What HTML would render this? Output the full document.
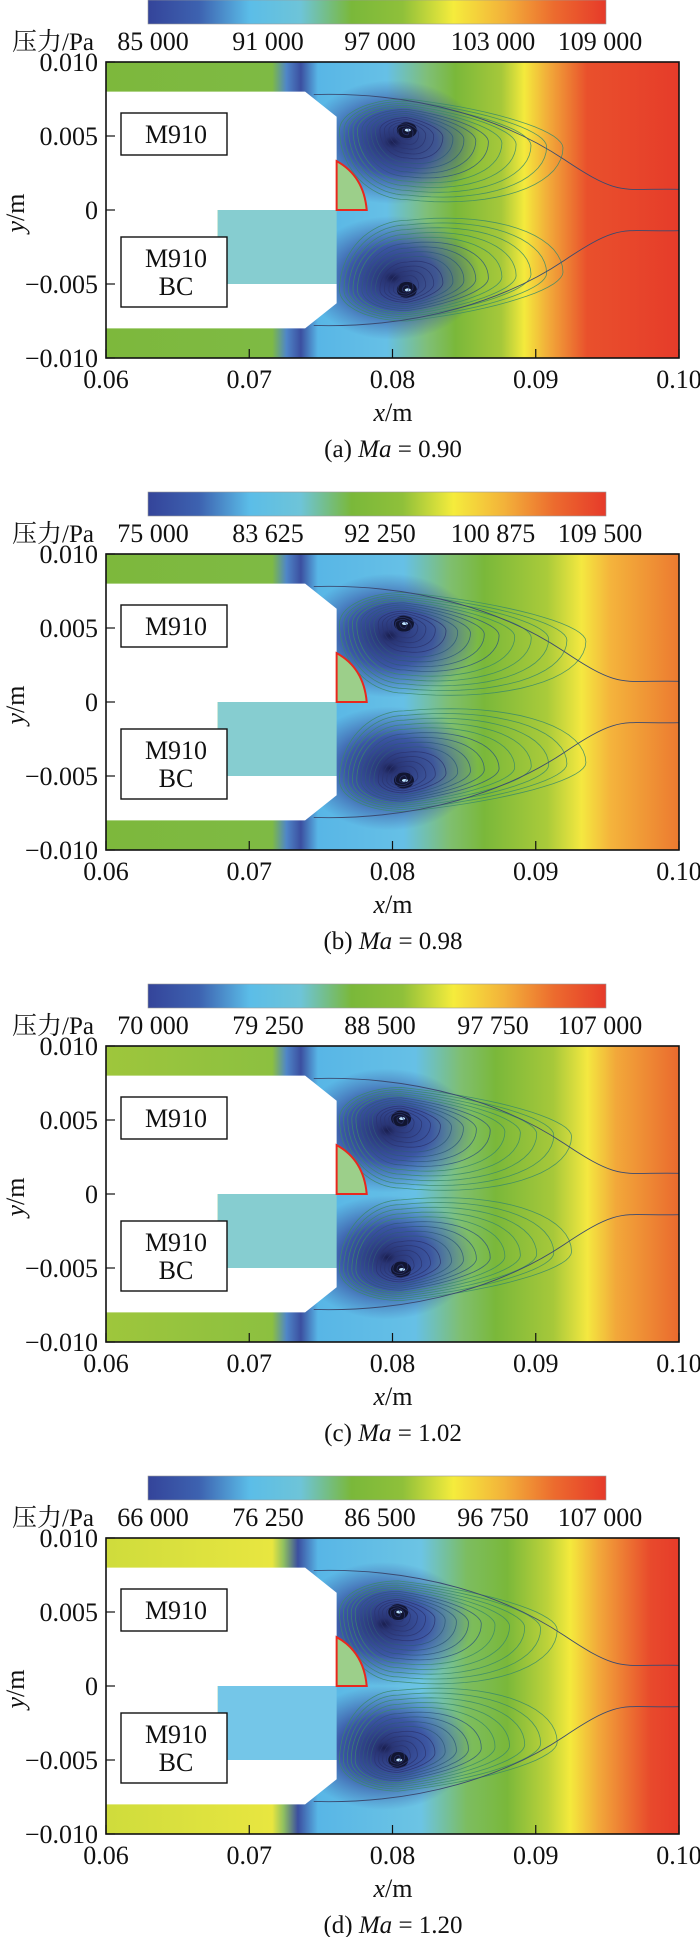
<!DOCTYPE html>
<html><head><meta charset="utf-8"><style>
html,body{margin:0;padding:0;background:#fff;}
svg text{font-family:"Liberation Serif","Noto Serif CJK SC",serif;fill:#111;}
</style></head><body>
<svg id="fig" width="700" height="1937" viewBox="0 0 700 1937" xmlns="http://www.w3.org/2000/svg">
<defs id="defs"></defs>
</svg>
<script>
const panelLetters = ["a","b","c","d"];
const machNumbers = ["0.90","0.98","1.02","1.20"];
const cbarLabels = [
  ["85 000","91 000","97 000","103 000","109 000"],
  ["75 000","83 625","92 250","100 875","109 500"],
  ["70 000","79 250","88 500","97 750","107 000"],
  ["66 000","76 250","86 500","96 750","107 000"]
];
const xTicks = [0.06,0.07,0.08,0.09,0.10];
const xTickLabels = ["0.06","0.07","0.08","0.09","0.10"];
const yTicks = [0.010,0.005,0,-0.005,-0.010];
const yTickLabels = ["0.010","0.005","0","\u22120.005","\u22120.010"];
const vortexX = [0.0810,0.0808,0.0806,0.0804];
const vortexY = [0.0054,0.0053,0.0051,0.0050];
const loopRightX = [0.0919,0.0935,0.0925,0.0915];
const cbarColors = ["#34449a","#3d62b0","#5bbde8","#6ec4d8","#7ab83a","#8fc03a","#f5ec3c","#f3b23a","#ec6a2e","#e63a2a"];
const fieldStops = [
  [[0,"#7db83c"],[0.29,"#7eba44"],[0.315,"#4f86c8"],[0.34,"#3b4fa0"],[0.37,"#58b6e6"],[0.49,"#66c0e6"],[0.56,"#7fbf78"],[0.61,"#7ab83a"],[0.69,"#a6c83a"],[0.73,"#f4ea3c"],[0.77,"#f2ae3a"],[0.84,"#e9502c"],[1,"#e63c2a"]],
  [[0,"#7db83c"],[0.29,"#7eba44"],[0.315,"#4f86c8"],[0.34,"#3b4fa0"],[0.37,"#58b6e6"],[0.52,"#66c0e6"],[0.60,"#7fbf70"],[0.66,"#7ab83a"],[0.77,"#aacb3a"],[0.83,"#f4e840"],[0.88,"#f4b43c"],[1,"#ec7a30"]],
  [[0,"#9ec63c"],[0.29,"#8cc040"],[0.315,"#4f86c8"],[0.34,"#3b4fa0"],[0.37,"#58b6e6"],[0.54,"#66c0e6"],[0.62,"#7fbf70"],[0.68,"#7ab83a"],[0.78,"#a6c83a"],[0.84,"#f4e840"],[0.89,"#f2a83a"],[1,"#ea6a2e"]],
  [[0,"#cfdc3c"],[0.29,"#e8e640"],[0.31,"#8fc060"],[0.335,"#3b4fa0"],[0.37,"#58b6e6"],[0.55,"#6cc4e4"],[0.63,"#7cbd60"],[0.70,"#7ab83a"],[0.77,"#bcd23a"],[0.81,"#f4ea3c"],[0.86,"#f2a83a"],[0.95,"#e84a2c"],[1,"#e63c2a"]]
];
const panelSpacing = 492;
const svg = document.getElementById('fig');
const defs = document.getElementById('defs');
const NS = "http://www.w3.org/2000/svg";
function mk(tag, attrs, parent){const e=document.createElementNS(NS,tag);for(const k in attrs)e.setAttribute(k,attrs[k]);(parent||svg).appendChild(e);return e;}

const cg = mk('linearGradient',{id:'cbar',x1:0,x2:1,y1:0,y2:0},defs);
cbarColors.forEach((c,i)=>mk('stop',{offset:i/(cbarColors.length-1),'stop-color':c},cg));
const vg = mk('radialGradient',{id:'vort'},defs);
mk('stop',{offset:0,'stop-color':'#1a1f50','stop-opacity':1},vg);
mk('stop',{offset:0.1,'stop-color':'#262e70','stop-opacity':0.95},vg);
mk('stop',{offset:0.5,'stop-color':'#34449a','stop-opacity':0.85},vg);
mk('stop',{offset:1,'stop-color':'#3b4fa0','stop-opacity':0},vg);

const PL=106, PW=573, PH=296;
panelLetters.forEach((letter,p)=>{
  const oy = 62 + p*panelSpacing;
  const X = v => PL + (v-0.06)/0.04*PW;
  const Y = v => oy + (0.01-v)/0.02*PH;
  const g = mk('g',{});
  
  
  const cb = mk('rect',{x:148,y:oy-62,width:458,height:24,fill:'url(#cbar)',stroke:'#999','stroke-width':0.6},g);
  
  
  const ct = mk('text',{x:12,y:oy-12,'font-size':25},g); ct.textContent='压力/Pa';
  
  
  const cbx=[153,268,380,493,600];
  cbarLabels[p].forEach((lab,i)=>{
    const t=mk('text',{x:cbx[i],y:oy-12,'font-size':26,'text-anchor':'middle'},g); t.textContent=lab;
    
    
  });
  const fg = mk('linearGradient',{id:'f'+p,x1:0,x2:1,y1:0,y2:0},defs);
  fieldStops[p].forEach(s=>mk('stop',{offset:s[0],'stop-color':s[1]},fg));
  const clip = mk('clipPath',{id:'c'+p},defs); mk('rect',{x:PL,y:oy,width:PW,height:PH},clip);
  const fld = mk('g',{'clip-path':'url(#c'+p+')'},g);
  
  
  mk('rect',{x:PL,y:oy,width:PW,height:PH,fill:'url(#f'+p+')'},fld);
  [1,-1].forEach(sg=>{
    const cx=X(vortexX[p]), cy=Y(sg*vortexY[p]);
    const e=mk('ellipse',{cx:cx-14,cy:cy+sg*12,rx:88,ry:62,fill:'url(#vort)'},fld);
    
    
    mk('ellipse',{cx:cx,cy:cy,rx:10,ry:8,fill:'#111530'},fld);
    mk('ellipse',{cx:cx+1,cy:cy,rx:3,ry:1.5,fill:'#bfe6ff'},fld);
  });
  [1,-1].forEach(sg=>{
    const cx=vortexX[p], cy=sg*vortexY[p];
    const R=loopRightX[p]-cx, L=cx-0.0763;
    for(let k=1;k<=15;k++){
      const s=k/15;
      let d='';
      for(let i=0;i<=72;i++){
        const t=i/72*2*Math.PI, u=Math.cos(t), v=Math.sin(t);
        const dx=s*(u>0?R*Math.pow(s,0.6):L)*u;
        const shift=-sg*s*0.0012*Math.max(u,0);
        const yy = sg>0 ? cy+ (v>0? s*0.0021*v : s*0.0047*v) + shift : cy + (v<0? s*0.0021*v : s*0.0047*v) + shift;
        d+=(i?'L':'M')+X(cx+dx).toFixed(1)+','+Y(yy).toFixed(1);
      }
      const pth=mk('path',{d:d+'Z',fill:'none',stroke:k<7?'#2b3570':(k<11?'#2f5a7a':'#3a8a6a'),'stroke-width':0.8,opacity:0.85},fld);
      
      
    }
    const sep=mk('path',{d:'M'+X(0.0745)+','+Y(sg*0.0078)+' C'+X(0.082)+','+Y(sg*0.0080)+' '+X(0.088)+','+Y(sg*0.0060)+' '+X(0.092)+','+Y(sg*0.0034)+' S'+X(0.096)+','+Y(sg*0.0015)+' '+X(0.1)+','+Y(sg*0.0014),fill:'none',stroke:'#3a4a70','stroke-width':0.9},fld);
    
    
  });
  const wb = mk('path',{d:'M'+X(0.06)+','+Y(0.008)+' L'+X(0.0739)+','+Y(0.008)+' L'+X(0.0761)+','+Y(0.0063)+' L'+X(0.0761)+','+Y(0)+' L'+X(0.06)+','+Y(0)+'Z',fill:'#fff'},fld);
  
  
  const lb = mk('path',{d:'M'+X(0.06)+','+Y(0)+' L'+X(0.0678)+','+Y(0)+' L'+X(0.0678)+','+Y(-0.005)+' L'+X(0.0761)+','+Y(-0.005)+' L'+X(0.0761)+','+Y(-0.0063)+' L'+X(0.0739)+','+Y(-0.008)+' L'+X(0.06)+','+Y(-0.008)+'Z',fill:'#fff'},fld);
  
  
  const cav = mk('rect',{x:X(0.0678),y:Y(0),width:X(0.0761)-X(0.0678),height:Y(-0.005)-Y(0),fill:p==3?'#74c6e8':'#86cdd0'},fld);
  
  
  const r=X(0.0782)-X(0.0761), rh=Y(0)-Y(0.0033);
  const sec=mk('path',{d:'M'+X(0.0761)+','+Y(0)+' L'+X(0.0761)+','+Y(0.0033)+' Q'+(X(0.0761)+r*0.9)+','+(Y(0.0033)+rh*0.3)+' '+X(0.0782)+','+Y(0)+'Z',fill:'#9ccf8a',stroke:'#e8281e','stroke-width':2},fld);
  
  
  [['M910',113,155],['M910|BC',237,307]].forEach(([txt,y0,y1],i)=>{
    const b=mk('rect',{x:121,y:oy+y0-62,width:106,height:y1-y0,fill:'#fff',stroke:'#111','stroke-width':1.4},g);
    
    
    const lines=txt.split('|');
    lines.forEach((ln,j)=>{
      const t=mk('text',{x:176,y:oy+y0-62+(lines.length==1?30:30+j*28),'font-size':26,'text-anchor':'middle'},g);
      t.textContent=ln;
      
      
    });
  });
  const fr=mk('rect',{x:PL,y:oy,width:PW,height:PH,fill:'none',stroke:'#111','stroke-width':1.6},g);
  
  
  xTicks.forEach((v,i)=>{
    mk('line',{x1:X(v),x2:X(v),y1:oy+PH,y2:oy+PH-9,stroke:'#111','stroke-width':1.2},g);
    const t=mk('text',{x:X(v),y:oy+PH+30,'font-size':26,'text-anchor':'middle'},g); t.textContent=xTickLabels[i];
    
    
  });
  yTicks.forEach((v,i)=>{
    mk('line',{x1:PL,x2:PL+9,y1:Y(v),y2:Y(v),stroke:'#111','stroke-width':1.2},g);
    const t=mk('text',{x:PL-8,y:Y(v)+9,'font-size':26,'text-anchor':'end'},g); t.textContent=yTickLabels[i];
    
    
  });
  const xt=mk('text',{x:393,y:oy+PH+63,'font-size':26,'text-anchor':'middle'},g);
  xt.innerHTML='<tspan font-style="italic">x</tspan>/m';
  
  
  const yt=mk('text',{x:0,y:0,'font-size':26,'text-anchor':'middle',transform:'translate(24,'+(oy+151)+') rotate(-90)'},g);
  yt.innerHTML='<tspan font-style="italic">y</tspan>/m';
  
  
  const cap=mk('text',{x:393,y:oy+PH+99,'font-size':25,'text-anchor':'middle'},g);
  cap.innerHTML='('+letter+') <tspan font-style="italic">Ma</tspan> = '+machNumbers[p];
  
  
});
</script>
</body></html>
